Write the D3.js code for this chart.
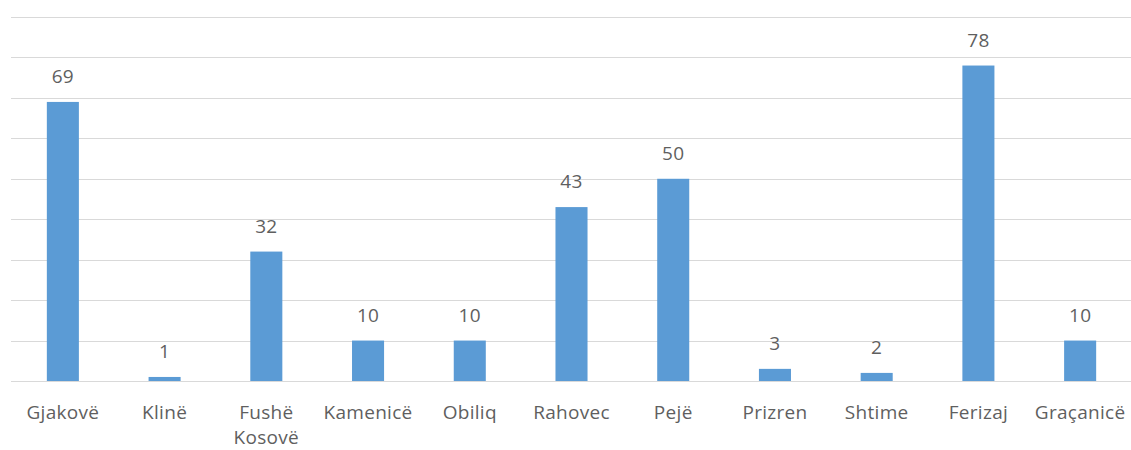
<!DOCTYPE html>
<html>
<head>
<meta charset="utf-8">
<script src="https://cdn.jsdelivr.net/npm/d3@7"></script>
<style>
    body { margin: 0; background: #fff; }
    text { font-family: "Open Sans", sans-serif; fill: #5f5f5f; letter-spacing: 0.3px; }
</style>
</head>
<body>
<div id="chart"></div>
<script>
// Chart data
const categories = ["Gjakovë", "Klinë", "Fushë Kosovë", "Kamenicë", "Obiliq", "Rahovec", "Pejë", "Prizren", "Shtime", "Ferizaj", "Graçanicë"];
const values = [69, 1, 32, 10, 10, 43, 50, 3, 2, 78, 10];
const yTicks = [0, 10, 20, 30, 40, 50, 60, 70, 80, 90];

const width = 1131, height = 450;
const margin = { top: 17, right: 0, bottom: 69, left: 12 };

const svg = d3.select("#chart")
    .append("svg")
    .attr("width", width)
    .attr("height", height);

const x = d3.scaleBand()
    .domain(categories)
    .range([margin.left, width - margin.right])
    .paddingInner(0.685)
    .paddingOuter(0.3425);

const y = d3.scaleLinear()
    .domain([0, 90])
    .range([height - margin.bottom, margin.top]);

// Gridlines
svg.append("g")
    .selectAll("line")
    .data(yTicks)
    .join("line")
    .attr("x1", margin.left - 1)
    .attr("x2", width - margin.right)
    .attr("y1", d => Math.round(y(d)) + 0.5)
    .attr("y2", d => Math.round(y(d)) + 0.5)
    .attr("stroke", "#d9d9d9")
    .attr("stroke-width", 1);

// Bars
svg.append("g")
    .selectAll("rect")
    .data(values)
    .join("rect")
    .attr("x", (d, i) => x(categories[i]))
    .attr("y", d => y(d))
    .attr("width", x.bandwidth())
    .attr("height", d => y(0) - y(d))
    .attr("fill", "#5b9bd5");

// Value labels
svg.append("g")
    .selectAll("text")
    .data(values)
    .join("text")
    .attr("x", (d, i) => x(categories[i]) + x.bandwidth() / 2)
    .attr("y", d => y(d) - 19)
    .attr("text-anchor", "middle")
    .style("font-size", "19px")
    .text(d => d);

// Category axis, labels wrap onto two lines when too wide
const xAxis = svg.append("g")
    .attr("transform", `translate(0,${y(0)})`)
    .call(d3.axisBottom(x).tickSize(0).tickPadding(0));
xAxis.select(".domain").remove();
xAxis.selectAll("text")
    .style("font-size", "19px")
    .style("font-family", null)
    .attr("y", 0)
    .attr("dy", null)
    .each(function (d) {
        const t = d3.select(this);
        const words = d.split(" ");
        let lines = [d];
        t.text(d);
        if (this.getComputedTextLength() > x.step() - 4 && words.length > 1) {
            lines = words;
        }
        t.text(null);
        lines.forEach((w, k) => {
            t.append("tspan")
                .attr("x", 0)
                .attr("y", 38 + k * 25)
                .text(w);
        });
    });
</script>
</body>
</html>
